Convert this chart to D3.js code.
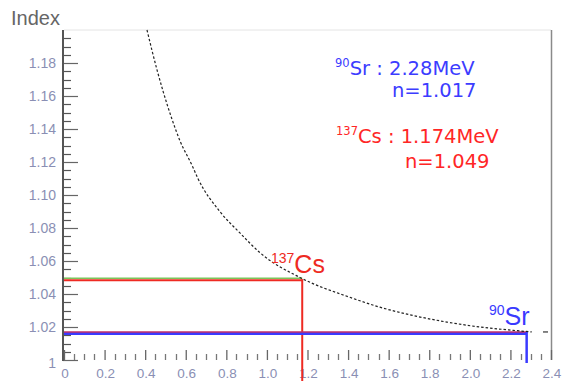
<!DOCTYPE html>
<html><head><meta charset="utf-8">
<script src="https://cdn.jsdelivr.net/npm/d3@7/dist/d3.min.js"></script>
<style>
body{margin:0;background:#fff;}
svg{display:block;font-family:"Liberation Sans",Arial,sans-serif;}
</style></head>
<body>
<svg id="c" width="565" height="381"></svg>
<script>
// ---- data ----
const curveE = [0.409,0.458,0.488,0.532,0.571,0.631,0.660,0.768,0.867,0.966,1.163,1.409,1.557,1.719,1.887,2.049,2.212,2.305];
const curveN = [1.200,1.176,1.163,1.146,1.133,1.118,1.110,1.090,1.077,1.065,1.050,1.038,1.032,1.027,1.023,1.020,1.018,1.017];
const yTicks = [1.00,1.02,1.04,1.06,1.08,1.10,1.12,1.14,1.16,1.18];
const yTickLabels = ["1","1.02","1.04","1.06","1.08","1.10","1.12","1.14","1.16","1.18"];
const xTicks = [0,0.2,0.4,0.6,0.8,1.0,1.2,1.4,1.6,1.8,2.0,2.2,2.4];
const xTickLabels = ["0","0.2","0.4","0.6","0.8","1.0","1.2","1.4","1.6","1.8","2.0","2.2","2.4"];
const srcNames = ["Sr","Cs"];
const srcMass = ["90","137"];
const srcEnergy = [2.28, 1.174];
const srcEnergyLabels = ["2.28MeV","1.174MeV"];
const srcIndex = [1.017, 1.049];
const srcIndexLabels = ["n=1.017","n=1.049"];

const svg = d3.select("#c");
const x = d3.scaleLinear().domain([0,2.4]).range([64,551]);
const y = d3.scaleLinear().domain([1,1.2]).range([360,30]);

const BLUE = "#3a3aff", RED = "#ee2a22", GREEN = "#7cc45a";
const LBLUE = "#3c3cff", LRED = "#ff2626";

// frame
svg.append("line").attr("x1",x(0)).attr("x2",x(2.4)).attr("y1",y(1.2)).attr("y2",y(1.2)).attr("stroke","#e4e4e4").attr("stroke-width",1);
svg.append("line").attr("x1",x(2.4)+0.5).attr("x2",x(2.4)+0.5).attr("y1",y(1.2)).attr("y2",y(1)).attr("stroke","#8a8a8a").attr("stroke-width",1.5);

// y axis
const yAxis = d3.axisRight(y).tickValues(yTicks).tickSize(15).tickFormat("");
const gy = svg.append("g").attr("transform",`translate(${x(0)-1},0)`).call(yAxis);
gy.select(".domain").remove();
gy.selectAll(".tick line").attr("stroke","#666").attr("stroke-width",1.2);
const yMinor = d3.range(1.005,1.2,0.005).filter(v=>Math.abs(Math.round(v/0.02)*0.02-v)>1e-6);
svg.append("g").selectAll("line").data(yMinor).join("line")
  .attr("x1",x(0)).attr("x2",x(0)+7).attr("y1",d=>Math.round(y(d))+0.5).attr("y2",d=>Math.round(y(d))+0.5)
  .attr("stroke","#555").attr("stroke-width",1.2);
svg.append("line").attr("x1",x(0)-1).attr("x2",x(0)-1).attr("y1",y(1.2)).attr("y2",y(1)+1).attr("stroke","#555").attr("stroke-width",2);
svg.append("g").selectAll("text").data(yTicks).join("text")
  .attr("x",56).attr("y",(d,i)=>y(d)+ (i===0?3:0)).attr("dy","0.35em").attr("text-anchor","end")
  .attr("font-size",14).attr("fill","#8a8fb4").text((d,i)=>yTickLabels[i]);

// x axis ticks
const xAxis = d3.axisTop(x).tickValues(xTicks).tickSize(10).tickFormat("");
const gx = svg.append("g").attr("transform",`translate(0,${y(1)})`).call(xAxis);
gx.select(".domain").remove();
gx.selectAll(".tick line").attr("stroke","#666").attr("stroke-width",1.3);
const xMinor = d3.range(0.05,2.4,0.05).filter(v=>Math.abs(Math.round(v/0.2)*0.2-v)>1e-6);
svg.append("g").selectAll("line").data(xMinor).join("line")
  .attr("x1",d=>Math.round(x(d))+0.5).attr("x2",d=>Math.round(x(d))+0.5).attr("y1",y(1)).attr("y2",y(1)-6)
  .attr("stroke","#777").attr("stroke-width",1.3);
svg.append("g").selectAll("text").data(xTicks).join("text")
  .attr("x",d=>x(d)+1).attr("y",378).attr("text-anchor","middle")
  .attr("font-size",13.5).attr("fill","#8a8fb4").text((d,i)=>xTickLabels[i]);

// title
svg.append("text").attr("x",11).attr("y",25).attr("font-size",20).attr("fill","#666").text("Index");

// Cs lines
const ci = 1, si = 0;
svg.append("line").attr("x1",x(0)).attr("x2",x(srcEnergy[ci])).attr("y1",y(srcIndex[ci])-1).attr("y2",y(srcIndex[ci])-1).attr("stroke",GREEN).attr("stroke-width",1.5);
svg.append("line").attr("x1",x(0)).attr("x2",x(srcEnergy[ci])).attr("y1",y(srcIndex[ci])+1).attr("y2",y(srcIndex[ci])+1).attr("stroke",RED).attr("stroke-width",2);
svg.append("line").attr("x1",x(srcEnergy[ci])).attr("x2",x(srcEnergy[ci])).attr("y1",y(srcIndex[ci])).attr("y2",381).attr("stroke",RED).attr("stroke-width",2);

// Sr lines
svg.append("line").attr("x1",x(0)).attr("x2",x(srcEnergy[si])).attr("y1",y(srcIndex[si])+1.5).attr("y2",y(srcIndex[si])+1.5).attr("stroke",BLUE).attr("stroke-width",3);
svg.append("line").attr("x1",x(0)).attr("x2",x(srcEnergy[si])).attr("y1",y(srcIndex[si])).attr("y2",y(srcIndex[si])).attr("stroke","#c0306a").attr("stroke-width",1.5);
svg.append("line").attr("x1",x(srcEnergy[si])).attr("x2",x(srcEnergy[si])).attr("y1",y(srcIndex[si])).attr("y2",y(1)+3).attr("stroke",BLUE).attr("stroke-width",2.5);

// curve
const pts = curveE.map((e,i)=>[e,curveN[i]]);
svg.append("path").datum(pts)
  .attr("d",d3.line().x(d=>x(d[0])).y(d=>y(d[1])).curve(d3.curveMonotoneX))
  .attr("fill","none").attr("stroke","#222").attr("stroke-width",1.2).attr("stroke-dasharray","2.5,2");
// small right tick at Sr index
svg.append("line").attr("x1",x(2.4)-8).attr("x2",x(2.4)-3).attr("y1",y(srcIndex[si])).attr("y2",y(srcIndex[si])).attr("stroke","#444").attr("stroke-width",1.3);

// point labels
function isoLabel(px,py,mass,name,col,supSize,mainSize){
  const t = svg.append("text").attr("x",px).attr("y",py).attr("fill",col);
  t.append("tspan").attr("font-size",supSize).attr("dy",-mainSize*0.42).text(mass);
  t.append("tspan").attr("font-size",mainSize).attr("dy",mainSize*0.42).text(name);
}
isoLabel(271,273,srcMass[ci],srcNames[ci],RED,14,25);
isoLabel(489,325,srcMass[si],srcNames[si],BLUE,14,25);

// legend
function legend(px,py,mass,name,eLabel,nLabel,nx,ny,col){
  const t = svg.append("text").attr("x",px).attr("y",py).attr("fill",col).attr("font-family","'DejaVu Sans',sans-serif");
  t.append("tspan").attr("font-size",11.5).attr("dy",-8).text(mass);
  t.append("tspan").attr("font-size",19.5).attr("dy",8).text(name+" : "+eLabel);
  svg.append("text").attr("x",nx).attr("y",ny).attr("fill",col).attr("font-size",19.5)
    .attr("font-family","'DejaVu Sans',sans-serif").text(nLabel);
}
legend(335,75,srcMass[si],srcNames[si],srcEnergyLabels[si],srcIndexLabels[si],392,97,LBLUE);
legend(336,143,srcMass[ci],srcNames[ci],srcEnergyLabels[ci],srcIndexLabels[ci],405,168,LRED);
</script>
</body></html>
